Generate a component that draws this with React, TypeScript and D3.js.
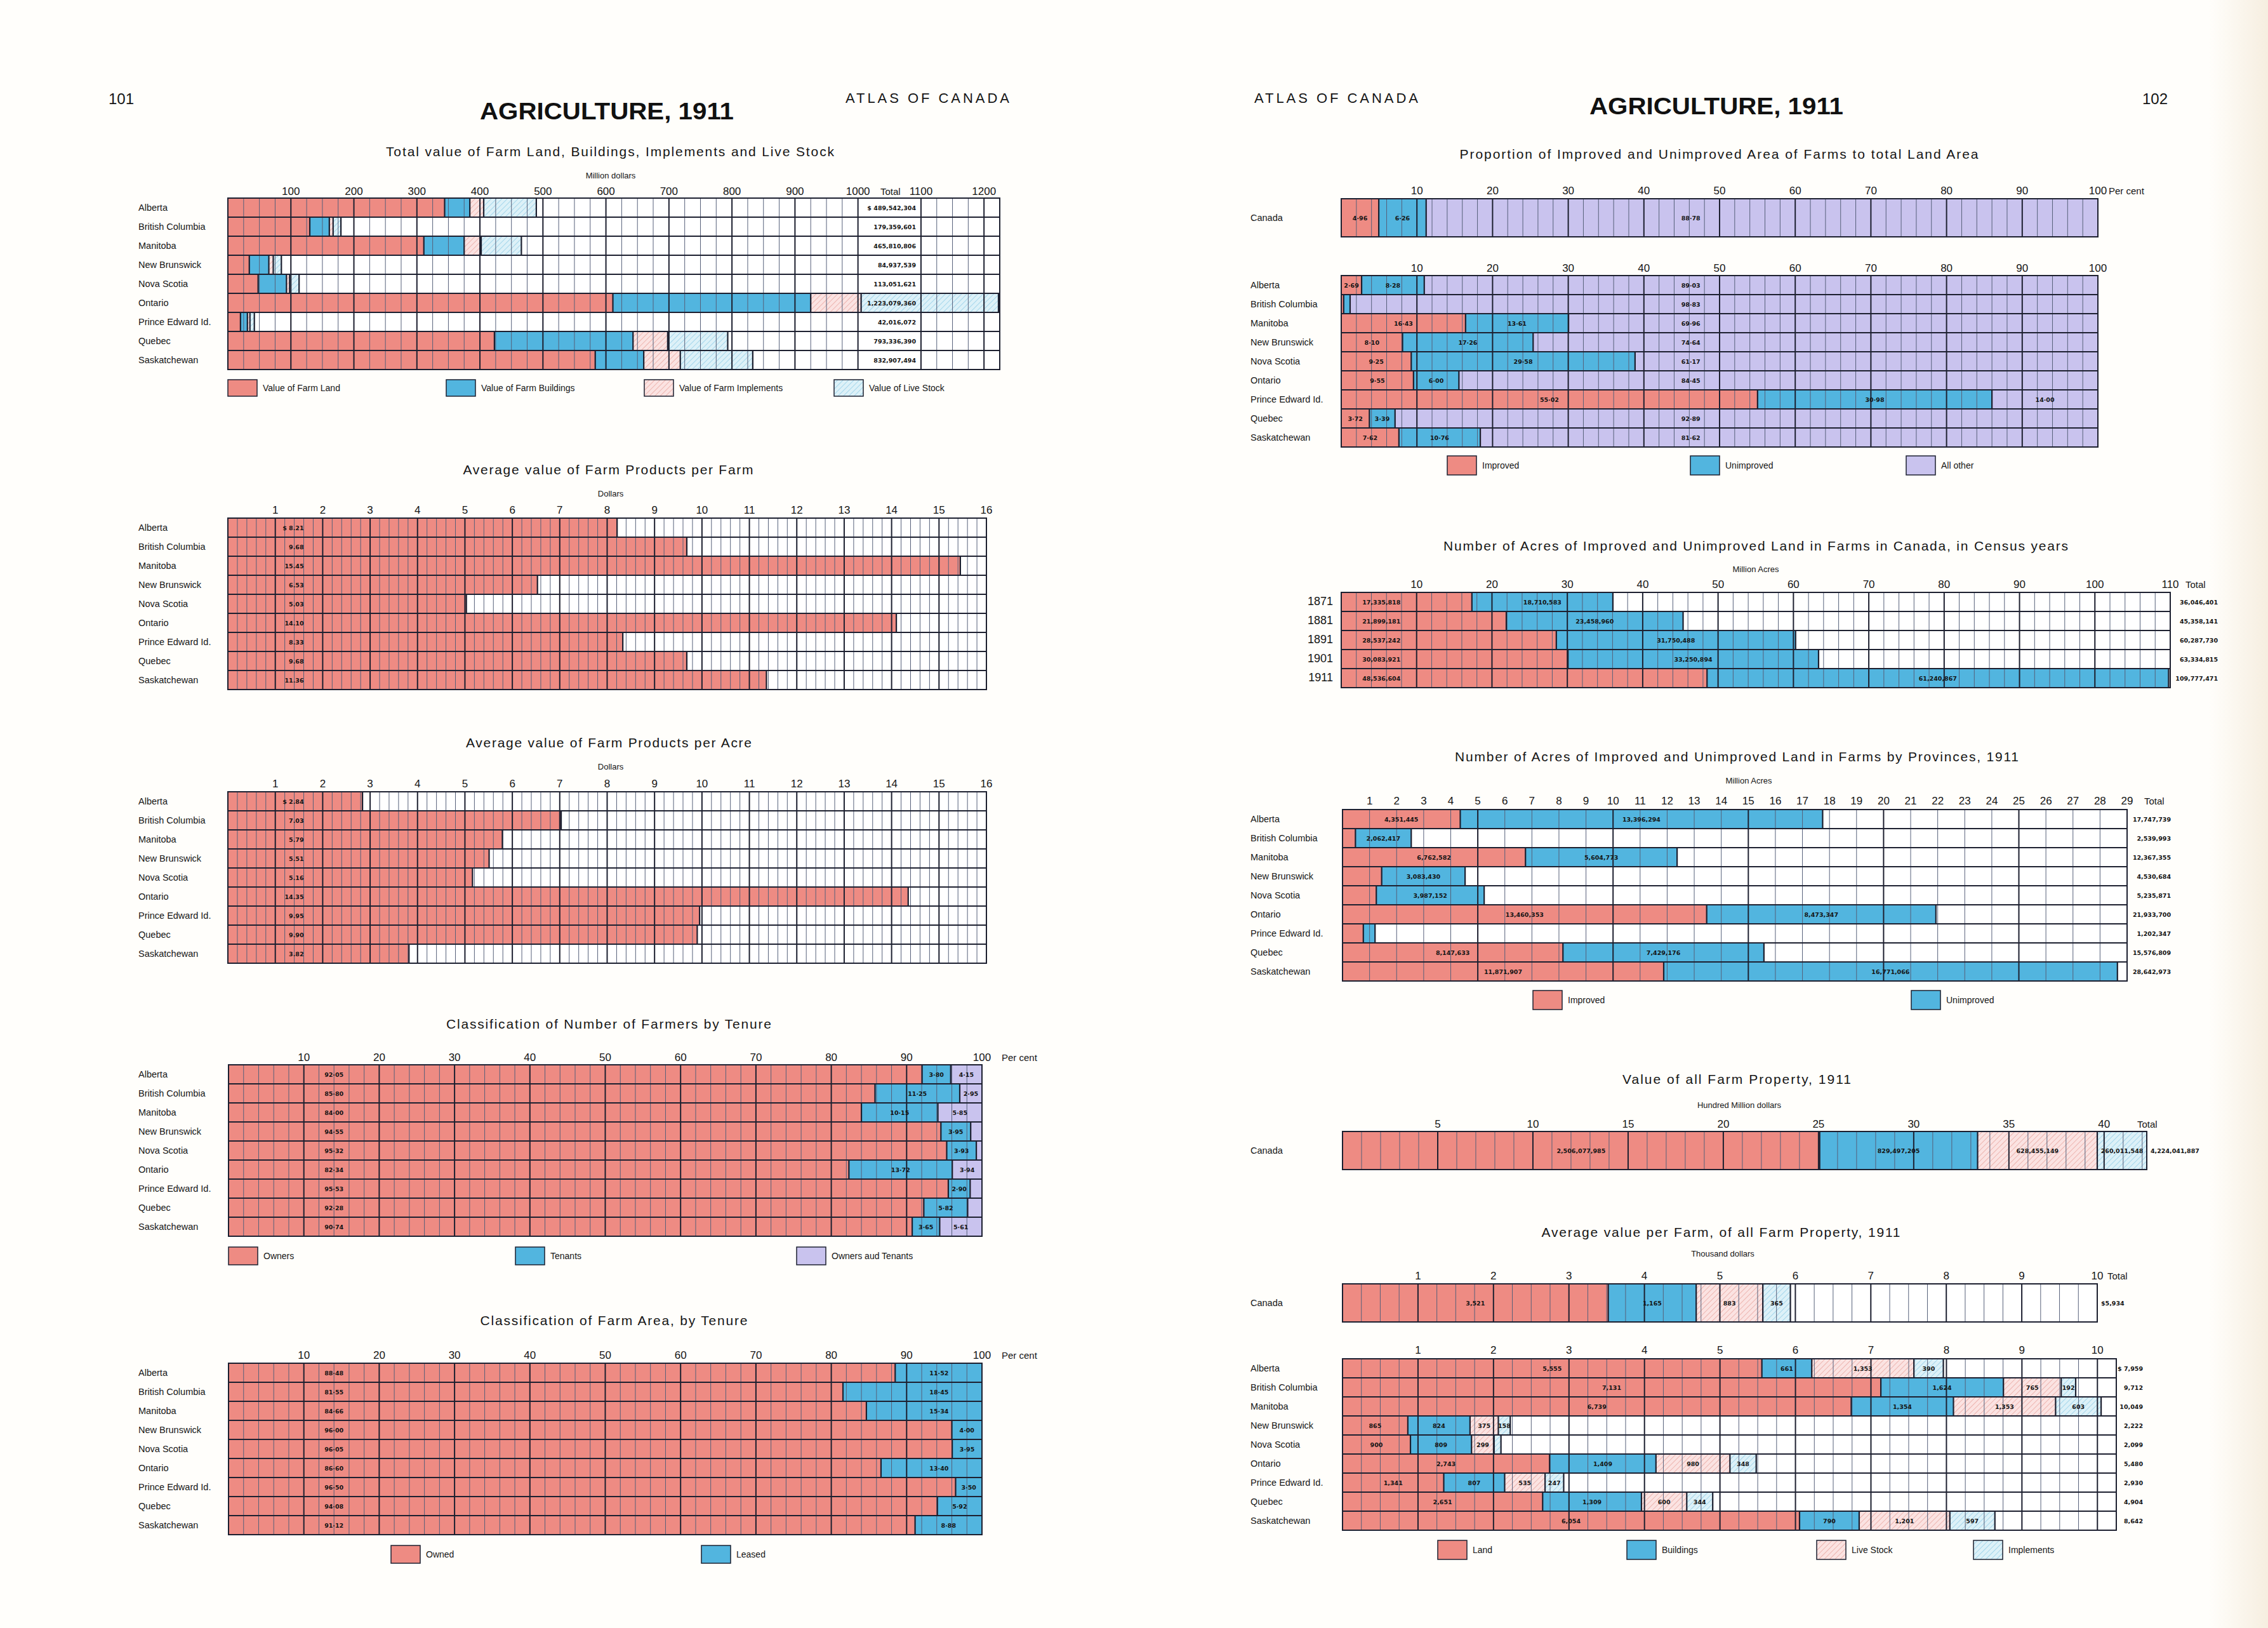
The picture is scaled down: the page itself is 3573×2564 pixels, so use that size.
import React from "react";
import * as d3 from "d3";

const W = 3573;
const H = 2564;
const RED = "#ee8b83";
const BLUE = "#52b5df";
const LILAC = "#c9c3ee";
const INK = "#1d2030";
const MINOR = "#56607a";
const SANS = "'Liberation Sans', Arial, sans-serif";
const NUM = "'DejaVu Sans', sans-serif";

// ---- data ----
const provinces = [
  "Alberta", "British Columbia", "Manitoba", "New Brunswick", "Nova Scotia",
  "Ontario", "Prince Edward Id.", "Quebec", "Saskatchewan",
];

// Total value, million dollars
const landValue = [344, 130, 311, 34, 48, 611, 20, 423, 583];
const buildingsValue = [40, 31, 64, 31, 45, 314, 11, 220, 77];
const implementsValue = [22, 6, 27, 7, 5, 80, 4, 55, 58];
const liveStockValue = [83.5, 12.4, 63.8, 12.9, 15, 218, 7, 95.3, 115];
const totalValueLabels = [
  "$ 489,542,304", "179,359,601", "465,810,806", "84,937,539", "113,051,621",
  "1,223,079,360", "42,016,072", "793,336,390", "832,907,494",
];
const millionTicks = [100, 200, 300, 400, 500, 600, 700, 800, 900, 1000, 1100, 1200];

// Farm products, dollars
const productsPerFarm = [8.21, 9.68, 15.45, 6.53, 5.03, 14.1, 8.33, 9.68, 11.36];
const productsPerAcre = [2.84, 7.03, 5.79, 5.51, 5.16, 14.35, 9.95, 9.9, 3.82];
const dollarTicks = [1, 2, 3, 4, 5, 6, 7, 8, 9, 10, 11, 12, 13, 14, 15, 16];

// Tenure, per cent
const owners = [92.05, 85.8, 84.0, 94.55, 95.32, 82.34, 95.53, 92.28, 90.74];
const tenants = [3.8, 11.25, 10.15, 3.95, 3.93, 13.72, 2.9, 5.82, 3.65];
const ownersAndTenants = [4.15, 2.95, 5.85, 1.5, 0.75, 3.94, 1.57, 1.9, 5.61];
const areaOwned = [88.48, 81.55, 84.66, 96.0, 96.05, 86.6, 96.5, 94.08, 91.12];
const areaLeased = [11.52, 18.45, 15.34, 4.0, 3.95, 13.4, 3.5, 5.92, 8.88];
const pctTicks = [10, 20, 30, 40, 50, 60, 70, 80, 90, 100];

// Proportion of land area, per cent
const canadaArea = [4.96, 6.26, 88.78];
const improvedPct = [2.69, 0.32, 16.43, 8.1, 9.25, 9.55, 55.02, 3.72, 7.62];
const unimprovedPct = [8.28, 0.85, 13.61, 17.26, 29.58, 6.0, 30.98, 3.39, 10.76];
const otherPct = [89.03, 98.83, 69.96, 74.64, 61.17, 84.45, 14.0, 92.89, 81.62];

// Acres in census years
const censusYears = ["1871", "1881", "1891", "1901", "1911"];
const improvedAcres = [17335818, 21899181, 28537242, 30083921, 48536604];
const unimprovedAcres = [18710583, 23458960, 31750488, 33250894, 61240867];
const censusTicks = [10, 20, 30, 40, 50, 60, 70, 80, 90, 100, 110];

// Acres by provinces, 1911
const improvedProv = [4351445, 477576, 6762582, 1447254, 1248719, 13460353, 769000, 8147633, 11871907];
const unimprovedProv = [13396294, 2062417, 5604773, 3083430, 3987152, 8473347, 433347, 7429176, 16771066];
const totalProv = [17747739, 2539993, 12367355, 4530684, 5235871, 21933700, 1202347, 15576809, 28642973];
const provAcreTicks = d3.range(1, 30);

// Value of all farm property (land, buildings, implements, live stock)
const propertyValues = [2506077985, 829497205, 628455149, 260011548];
const propertyTotal = "4,224,041,887";
const hundredMillionTicks = [5, 10, 15, 20, 25, 30, 35, 40];

// Average value per farm, dollars
const canadaAverage = [3521, 1165, 883, 365];
const avgLand = [5555, 7131, 6739, 865, 900, 2743, 1341, 2651, 6054];
const avgBuildings = [661, 1624, 1354, 824, 809, 1409, 807, 1309, 790];
const avgLiveStock = [1353, 765, 1353, 375, 299, 980, 535, 600, 1201];
const avgImplements = [390, 192, 603, 158, 91, 348, 247, 344, 597];
const thousandTicks = [1, 2, 3, 4, 5, 6, 7, 8, 9, 10];

const fmt2 = d3.format(".2f");
const pct = (v: number) => fmt2(v).replace(".", "·");
const comma = d3.format(",");

type Lab = { text: string; at: number; anchor?: "start" | "middle" | "end" } | null;

interface PanelProps {
  x0: number; x1: number; max: number; top: number; rowH: number;
  rows: string[]; rowLabelX: number; rowLabelAnchor?: "start" | "end"; rowLabelSize?: number;
  series: number[][]; fills: string[];
  minor: number; major: number; skip?: [number, number];
  ticks?: number[]; tickY?: number;
  tail?: { text: string; x: number };
  label?: (s: number, r: number, a: number, b: number, px: number) => Lab;
}

function Panel(p: PanelProps) {
  const x = d3.scaleLinear().domain([0, p.max]).range([p.x0, p.x1]);
  const bottom = p.top + p.rows.length * p.rowH;
  const grid: number[] = [];
  for (let i = 1; i * p.minor < p.max - 1e-6; i++) grid.push(i * p.minor);
  const isMajor = (v: number) => Math.abs(v / p.major - Math.round(v / p.major)) < 1e-6;
  const segs = p.rows.map((_, r) => {
    let acc = 0;
    return p.series.map((ser, s) => {
      const a = acc;
      acc += ser[r];
      return { s, r, a, b: acc };
    });
  }).flat();
  const rowY = (r: number) => p.top + r * p.rowH;
  return (
    <g>
      <rect x={p.x0} y={p.top} width={p.x1 - p.x0} height={bottom - p.top} fill="#ffffff" />
      {segs.map((d) => (
        <rect key={`f${d.s}-${d.r}`} x={x(d.a)} y={rowY(d.r)} width={Math.max(0, x(d.b) - x(d.a))}
          height={p.rowH} fill={p.fills[d.s]} />
      ))}
      {grid
        .filter((v) => !(p.skip && v > p.skip[0] + 1e-6 && v < p.skip[1] - 1e-6))
        .map((v) => (
          <line key={`g${v}`} x1={x(v)} x2={x(v)} y1={p.top} y2={bottom}
            stroke={isMajor(v) ? INK : MINOR} strokeWidth={isMajor(v) ? 2 : 1} />
        ))}
      {p.rows.slice(1).map((_, i) => (
        <line key={`h${i}`} x1={p.x0} x2={p.x1} y1={rowY(i + 1)} y2={rowY(i + 1)} stroke={INK} strokeWidth={2} />
      ))}
      {segs
        .filter((d) => d.b > d.a && x(d.b) < p.x1 - 1)
        .map((d) => (
          <line key={`e${d.s}-${d.r}`} x1={x(d.b)} x2={x(d.b)} y1={rowY(d.r)} y2={rowY(d.r + 1)}
            stroke={INK} strokeWidth={2.2} />
        ))}
      <rect x={p.x0} y={p.top} width={p.x1 - p.x0} height={bottom - p.top} fill="none" stroke={INK} strokeWidth={2} />
      {p.label &&
        segs.map((d) => {
          const l = p.label!(d.s, d.r, d.a, d.b, x(d.b) - x(d.a));
          if (!l) return null;
          return (
            <text key={`l${d.s}-${d.r}`} x={x(l.at)} y={rowY(d.r) + p.rowH / 2 + 3.5}
              textAnchor={l.anchor || "middle"} fontFamily={NUM} fontWeight="bold" fontSize={9.5} fill="#141414">
              {l.text}
            </text>
          );
        })}
      {p.rows.map((name, r) => (
        <text key={`r${r}`} x={p.rowLabelX} y={rowY(r) + p.rowH / 2 + 5}
          textAnchor={p.rowLabelAnchor || "start"} fontSize={p.rowLabelSize || 14.5} fill="#151515">
          {name}
        </text>
      ))}
      {p.ticks &&
        p.ticks.map((t) => (
          <text key={`t${t}`} x={x(t)} y={p.tickY} textAnchor="middle" fontSize={17} fill="#151515">
            {t}
          </text>
        ))}
      {p.tail && (
        <text x={p.tail.x} y={p.tickY} fontSize={15} fill="#151515">{p.tail.text}</text>
      )}
    </g>
  );
}

function Title({ text, cx, y, len, size = 21 }: { text: string; cx: number; y: number; len: number; size?: number }) {
  return (
    <text x={cx - len / 2} y={y} fontSize={size} textLength={len} lengthAdjust="spacing" fill="#151515">
      {text}
    </text>
  );
}

function Unit({ text, cx, y }: { text: string; cx: number; y: number }) {
  return <text x={cx} y={y} fontSize={13} textAnchor="middle" fill="#151515">{text}</text>;
}

function Legend({ items, y, h = 28 }: { items: { x: number; fill: string; text: string }[]; y: number; h?: number }) {
  return (
    <g>
      {items.map((it) => (
        <g key={it.text}>
          <rect x={it.x} y={y} width={46} height={h} fill={it.fill} stroke={INK} strokeWidth={1.5} />
          <text x={it.x + 55} y={y + h / 2 + 5} fontSize={14} fill="#151515">{it.text}</text>
        </g>
      ))}
    </g>
  );
}

const PINK_H = "url(#hatchPink)";
const BLUE_H = "url(#hatchBlue)";

export default function App() {
  const L0 = 218;
  const R0 = 1970;
  const mid = (a: number, b: number) => (a + b) / 2;
  return (
    <svg width={W} height={H} viewBox={`0 0 ${W} ${H}`} fontFamily={SANS}
      style={{ position: "absolute", left: 0, top: 0 }}>
      <defs>
        <pattern id="hatchPink" patternUnits="userSpaceOnUse" width={6} height={6} patternTransform="rotate(45)">
          <rect width={6} height={6} fill="#fbe3e2" />
          <line x1={0} y1={0} x2={0} y2={6} stroke="#e8a19b" strokeWidth={1.4} />
        </pattern>
        <pattern id="hatchBlue" patternUnits="userSpaceOnUse" width={6} height={6} patternTransform="rotate(45)">
          <rect width={6} height={6} fill="#ddf1f8" />
          <line x1={0} y1={0} x2={0} y2={6} stroke="#8ccbe6" strokeWidth={1.4} />
        </pattern>
        <linearGradient id="edge" x1="0" x2="1" y1="0" y2="0">
          <stop offset="0" stopColor="#fffefb" />
          <stop offset="1" stopColor="#f6eee0" />
        </linearGradient>
      </defs>
      <rect width={W} height={H} fill="#fffefb" />
      <rect x={3480} width={W - 3480} height={H} fill="url(#edge)" />

      {/* ---------- left page ---------- */}
      <text x={171} y={164} fontSize={24} fill="#151515">101</text>
      <text x={956 - 200} y={188} fontSize={36} fontWeight="bold" textLength={400} lengthAdjust="spacingAndGlyphs" fill="#111">
        AGRICULTURE, 1911
      </text>
      <text x={1332} y={162} fontSize={22} textLength={258} lengthAdjust="spacing" fill="#151515">ATLAS OF CANADA</text>

      <Title text="Total value of Farm Land, Buildings, Implements and Live Stock" cx={961} y={246} len={706} />
      <Unit text="Million dollars" cx={962} y={281} />
      <Panel x0={359} x1={1575} max={1225} top={312} rowH={30} rows={provinces} rowLabelX={L0}
        series={[landValue, buildingsValue, implementsValue, liveStockValue]} fills={[RED, BLUE, PINK_H, BLUE_H]}
        minor={25} major={100} skip={[1000, 1100]} ticks={millionTicks} tickY={307}
        tail={{ text: "Total", x: 1387 }} />
      {totalValueLabels.map((t, r) => (
        <text key={t} x={1443} y={312 + r * 30 + 18.5} textAnchor="end" fontFamily={NUM} fontWeight="bold"
          fontSize={9.5} fill="#141414">{t}</text>
      ))}
      <Legend y={598} h={26} items={[
        { x: 359, fill: RED, text: "Value of Farm Land" },
        { x: 703, fill: BLUE, text: "Value of Farm Buildings" },
        { x: 1015, fill: PINK_H, text: "Value of Farm Implements" },
        { x: 1314, fill: BLUE_H, text: "Value of Live Stock" },
      ]} />

      <Title text="Average value of Farm Products per Farm" cx={958} y={747} len={457} />
      <Unit text="Dollars" cx={962} y={782} />
      <Panel x0={359} x1={1554} max={16} top={816} rowH={30} rows={provinces} rowLabelX={L0}
        series={[productsPerFarm]} fills={[RED]} minor={0.2} major={1} ticks={dollarTicks} tickY={809}
        label={(s, r) => ({ text: (r === 0 ? "$ " : "") + fmt2(productsPerFarm[r]), at: 1.6, anchor: "end" })} />

      <Title text="Average value of Farm Products per Acre" cx={959} y={1177} len={450} />
      <Unit text="Dollars" cx={962} y={1212} />
      <Panel x0={359} x1={1554} max={16} top={1247} rowH={30} rows={provinces} rowLabelX={L0}
        series={[productsPerAcre]} fills={[RED]} minor={0.2} major={1} ticks={dollarTicks} tickY={1240}
        label={(s, r) => ({ text: (r === 0 ? "$ " : "") + fmt2(productsPerAcre[r]), at: 1.6, anchor: "end" })} />

      <Title text="Classification of Number of Farmers by Tenure" cx={959} y={1620} len={512} />
      <Panel x0={360} x1={1547} max={100} top={1677} rowH={30} rows={provinces} rowLabelX={L0}
        series={[owners, tenants, ownersAndTenants]} fills={[RED, BLUE, LILAC]} minor={2} major={10}
        ticks={pctTicks} tickY={1671} tail={{ text: "Per cent", x: 1578 }}
        label={(s, r, a, b, px) => {
          const src = [owners, tenants, ownersAndTenants][s];
          if (s === 0) return { text: pct(src[r]), at: 14 };
          return px >= 30 ? { text: pct(src[r]), at: mid(a, b) } : null;
        }} />
      <Legend y={1964} h={28} items={[
        { x: 360, fill: RED, text: "Owners" },
        { x: 812, fill: BLUE, text: "Tenants" },
        { x: 1255, fill: LILAC, text: "Owners aud Tenants" },
      ]} />

      <Title text="Classification of Farm Area, by Tenure" cx={967} y={2087} len={421} />
      <Panel x0={360} x1={1547} max={100} top={2147} rowH={30} rows={provinces} rowLabelX={L0}
        series={[areaOwned, areaLeased]} fills={[RED, BLUE]} minor={2} major={10}
        ticks={pctTicks} tickY={2140} tail={{ text: "Per cent", x: 1578 }}
        label={(s, r, a, b) =>
          s === 0 ? { text: pct(areaOwned[r]), at: 14 } : { text: pct(areaLeased[r]), at: Math.max(mid(a, b), 94.3) }
        } />
      <Legend y={2434} h={28} items={[
        { x: 616, fill: RED, text: "Owned" },
        { x: 1105, fill: BLUE, text: "Leased" },
      ]} />

      {/* ---------- right page ---------- */}
      <text x={1976} y={162} fontSize={22} textLength={258} lengthAdjust="spacing" fill="#151515">ATLAS OF CANADA</text>
      <text x={2704 - 200} y={180} fontSize={36} fontWeight="bold" textLength={400} lengthAdjust="spacingAndGlyphs" fill="#111">
        AGRICULTURE, 1911
      </text>
      <text x={3375} y={164} fontSize={24} fill="#151515">102</text>

      <Title text="Proportion of Improved and Unimproved Area of Farms to total Land Area" cx={2708} y={250} len={817} />
      <Panel x0={2113} x1={3305} max={100} top={313} rowH={60} rows={["Canada"]} rowLabelX={R0}
        series={[[canadaArea[0]], [canadaArea[1]], [canadaArea[2]]]} fills={[RED, BLUE, LILAC]}
        minor={2} major={10} ticks={pctTicks} tickY={306} tail={{ text: "Per cent", x: 3322 }}
        label={(s, r, a, b) => ({ text: pct(canadaArea[s]), at: s === 2 && a < 46 ? 46.2 : mid(a, b) })} />
      <Panel x0={2113} x1={3305} max={100} top={434} rowH={30} rows={provinces} rowLabelX={R0}
        series={[improvedPct, unimprovedPct, otherPct]} fills={[RED, BLUE, LILAC]}
        minor={2} major={10} ticks={pctTicks} tickY={428}
        label={(s, r, a, b, px) => {
          const src = [improvedPct, unimprovedPct, otherPct][s];
          if (s === 2) return { text: pct(src[r]), at: a < 46 ? 46.2 : mid(a, b) };
          return px >= 20 ? { text: pct(src[r]), at: mid(a, b) } : null;
        }} />
      <Legend y={718} h={30} items={[
        { x: 2280, fill: RED, text: "Improved" },
        { x: 2663, fill: BLUE, text: "Unimproved" },
        { x: 3003, fill: LILAC, text: "All other" },
      ]} />

      <Title text="Number of Acres of Improved and Unimproved Land in Farms in Canada, in Census years"
        cx={2766} y={867} len={984} />
      <Unit text="Million Acres" cx={2766} y={901} />
      <Panel x0={2113} x1={3419} max={110} top={933} rowH={30} rows={censusYears} rowLabelX={2100}
        rowLabelAnchor="end" rowLabelSize={18}
        series={[improvedAcres.map((v) => v / 1e6), unimprovedAcres.map((v) => v / 1e6)]} fills={[RED, BLUE]}
        minor={2} major={10} ticks={censusTicks} tickY={926} tail={{ text: "Total", x: 3443 }}
        label={(s, r, a, b) =>
          s === 0
            ? { text: comma(improvedAcres[r]), at: 2.8, anchor: "start" }
            : { text: comma(unimprovedAcres[r]), at: mid(a, b) }
        } />
      {censusYears.map((yr, r) => (
        <text key={yr} x={3494} y={933 + r * 30 + 18.5} textAnchor="end" fontFamily={NUM} fontWeight="bold"
          fontSize={9.5} fill="#141414">{comma(improvedAcres[r] + unimprovedAcres[r])}</text>
      ))}

      <Title text="Number of Acres of Improved and Unimproved Land in Farms by Provinces, 1911"
        cx={2736} y={1199} len={888} />
      <Unit text="Million Acres" cx={2755} y={1234} />
      <Panel x0={2115} x1={3351} max={29} top={1275} rowH={30} rows={provinces} rowLabelX={R0}
        series={[improvedProv.map((v) => v / 1e6), unimprovedProv.map((v) => v / 1e6)]} fills={[RED, BLUE]}
        minor={1} major={5} ticks={provAcreTicks} tickY={1267} tail={{ text: "Total", x: 3378 }}
        label={(s, r, a, b, px) => {
          const src = s === 0 ? improvedProv : unimprovedProv;
          return px > 80 ? { text: comma(src[r]), at: mid(a, b) } : null;
        }} />
      {totalProv.map((t, r) => (
        <text key={t} x={3420} y={1275 + r * 30 + 18.5} textAnchor="end" fontFamily={NUM} fontWeight="bold"
          fontSize={9.5} fill="#141414">{comma(t)}</text>
      ))}
      <Legend y={1560} h={30} items={[
        { x: 2415, fill: RED, text: "Improved" },
        { x: 3011, fill: BLUE, text: "Unimproved" },
      ]} />

      <Title text="Value of all Farm Property, 1911" cx={2736} y={1707} len={360} />
      <Unit text="Hundred Million dollars" cx={2740} y={1745} />
      <Panel x0={2115} x1={3382} max={42.24} top={1782} rowH={60} rows={["Canada"]} rowLabelX={R0}
        series={propertyValues.map((v) => [v / 1e8])} fills={[RED, BLUE, PINK_H, BLUE_H]}
        minor={1} major={5} ticks={hundredMillionTicks} tickY={1776} tail={{ text: "Total", x: 3367 }}
        label={(s, r, a, b) => ({ text: comma(propertyValues[s]), at: mid(a, b) })} />
      <text x={3388} y={1815.5} fontFamily={NUM} fontWeight="bold" fontSize={9.5} fill="#141414">{propertyTotal}</text>

      <Title text="Average value per Farm, of all Farm Property, 1911" cx={2711} y={1948} len={565} />
      <Unit text="Thousand dollars" cx={2714} y={1979} />
      <Panel x0={2115} x1={3304} max={10} top={2022} rowH={60} rows={["Canada"]} rowLabelX={R0}
        series={canadaAverage.map((v) => [v / 1000])} fills={[RED, BLUE, PINK_H, BLUE_H]}
        minor={0.25} major={1} ticks={thousandTicks} tickY={2015} tail={{ text: "Total", x: 3320 }}
        label={(s, r, a, b) => ({ text: comma(canadaAverage[s]), at: mid(a, b) })} />
      <text x={3310} y={2055.5} fontFamily={NUM} fontWeight="bold" fontSize={9.5} fill="#141414">
        {"$" + comma(d3.sum(canadaAverage))}
      </text>
      <Panel x0={2115} x1={3334} max={10.25} top={2140} rowH={30} rows={provinces} rowLabelX={R0}
        series={[avgLand, avgBuildings, avgLiveStock, avgImplements].map((a) => a.map((v) => v / 1000))}
        fills={[RED, BLUE, PINK_H, BLUE_H]} minor={0.25} major={1} ticks={thousandTicks} tickY={2132}
        label={(s, r, a, b, px) => {
          const src = [avgLand, avgBuildings, avgLiveStock, avgImplements][s];
          return px > 15 ? { text: comma(src[r]), at: mid(a, b) } : null;
        }} />
      {provinces.map((p, r) => (
        <text key={p} x={3376} y={2140 + r * 30 + 18.5} textAnchor="end" fontFamily={NUM} fontWeight="bold"
          fontSize={9.5} fill="#141414">
          {(r === 0 ? "$ " : "") + comma(avgLand[r] + avgBuildings[r] + avgLiveStock[r] + avgImplements[r])}
        </text>
      ))}
      <Legend y={2426} h={30} items={[
        { x: 2265, fill: RED, text: "Land" },
        { x: 2563, fill: BLUE, text: "Buildings" },
        { x: 2862, fill: PINK_H, text: "Live Stock" },
        { x: 3109, fill: BLUE_H, text: "Implements" },
      ]} />
    </svg>
  );
}
